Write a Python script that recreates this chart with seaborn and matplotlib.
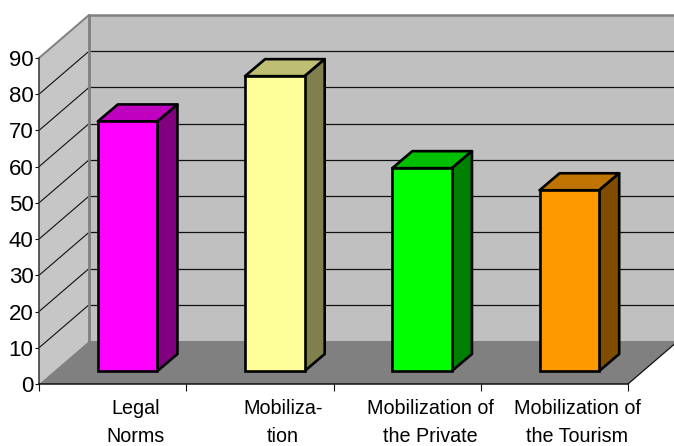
import matplotlib
matplotlib.use("Agg")
import matplotlib.pyplot as plt
from matplotlib.patches import Polygon
from matplotlib.lines import Line2D
from matplotlib.transforms import Affine2D, IdentityTransform
import pandas as pd
import seaborn as sns

categories = ["Legal\nNorms", "Mobiliza-\ntion", "Mobilization of\nthe Private", "Mobilization of\nthe Tourism"]
values = [68.9, 81.4, 56, 49.9]
front_colors = ["#FF00FF", "#FFFF99", "#00FF00", "#FF9900"]
top_colors = ["#C000C0", "#BFBF73", "#00BF00", "#BF7300"]
side_colors = ["#800080", "#80804D", "#008000", "#804D00"]
y_ticks = [0, 10, 20, 30, 40, 50, 60, 70, 80, 90]

W, H = 674, 446
WALL_DX, WALL_DY = 50, 43      # depth of the chart box, in pixels
BAR_DX, BAR_DY = 15, 13        # where a bar's front face sits within that depth
BAR_DEPTH_X, BAR_DEPTH_Y = 20, 17

sns.set_style("white")
plt.rcParams["font.family"] = ["Liberation Sans", "DejaVu Sans"]

fig = plt.figure(figsize=(W / 100, H / 100), dpi=100)
ax = fig.add_axes([39 / W, (H - 384) / H, (628 - 39) / W, (384 - 58) / H])
ax.patch.set_alpha(0)

df = pd.DataFrame({"category": categories, "value": values})
sns.barplot(data=df, x="category", y="value", hue="category", palette=front_colors,
            saturation=1, width=0.405, edgecolor="black", linewidth=1.9,
            legend=False, zorder=6, ax=ax)
ax.set_xlim(-0.5, len(categories) - 0.5)
ax.set_ylim(0, 90)
ax.set_xlabel("")
ax.set_ylabel("")
fig.canvas.draw()


def project(x, y, dx=0, dy=0):
    """Data position pushed back into the box by a pixel depth."""
    px, py = ax.transData.transform((x, y))
    return (px + dx, py + dy)


def face(points, color, zorder, edge="none", lw=0):
    ax.add_patch(Polygon(points, closed=True, facecolor=color, edgecolor=edge, linewidth=lw,
                         transform=IdentityTransform(), clip_on=False, zorder=zorder,
                         joinstyle="round"))


def seg(a, b, color, lw, zorder):
    ax.add_line(Line2D([a[0], b[0]], [a[1], b[1]], color=color, linewidth=lw,
                       transform=IdentityTransform(), clip_on=False, zorder=zorder))


x0, x1 = ax.get_xlim()
y0, y1 = ax.get_ylim()
WALL_GRAY = "#C0C0C0"
EDGE_GRAY = "#808080"

# back wall, side wall and floor
face([project(x0, y0, WALL_DX, WALL_DY), project(x1, y0, WALL_DX, WALL_DY),
      project(x1, y1, WALL_DX, WALL_DY), project(x0, y1, WALL_DX, WALL_DY)], WALL_GRAY, 1)
face([project(x0, y0), project(x0, y0, WALL_DX, WALL_DY),
      project(x0, y1, WALL_DX, WALL_DY), project(x0, y1)], "#C6C6C6", 1)
face([project(x0, y0), project(x1, y0),
      project(x1, y0, WALL_DX, WALL_DY), project(x0, y0, WALL_DX, WALL_DY)], "#808080", 2)

# gridlines run along the side wall and across the back wall
for v in y_ticks[1:-1]:
    seg(project(x0, v), project(x0, v, WALL_DX, WALL_DY), "#111111", 0.8, 3)
    seg(project(x0, v, WALL_DX, WALL_DY), project(x1, v, WALL_DX, WALL_DY), "#111111", 0.9, 3)

# box edges
seg(project(x0, y1, WALL_DX, WALL_DY), project(x1, y1, WALL_DX, WALL_DY), EDGE_GRAY, 1.8, 4)
seg(project(x0, y0, WALL_DX, WALL_DY), project(x0, y1, WALL_DX, WALL_DY), EDGE_GRAY, 2.0, 4)
seg(project(x0, y1), project(x0, y1, WALL_DX, WALL_DY), EDGE_GRAY, 1.4, 4)
seg(project(x1, y0), project(x1, y0, WALL_DX, WALL_DY), "#111111", 0.9, 4)

# bars: seaborn draws the front faces, the top and side follow from each bar's extent
shift = ax.transData + Affine2D().translate(BAR_DX, BAR_DY)
for i, bar in enumerate(ax.patches[:len(categories)]):
    bar.set_transform(shift)
    bar.set_clip_on(False)
    bar.set_joinstyle("miter")
    left, right = bar.get_x(), bar.get_x() + bar.get_width()
    top = bar.get_height()
    fx, fy = BAR_DX, BAR_DY
    bx, by = BAR_DX + BAR_DEPTH_X, BAR_DY + BAR_DEPTH_Y
    face([project(left, top, fx, fy), project(right, top, fx, fy),
          project(right, top, bx, by), project(left, top, bx, by)],
         top_colors[i], 5, "black", 1.9)
    face([project(right, 0, fx, fy), project(right, 0, bx, by),
          project(right, top, bx, by), project(right, top, fx, fy)],
         side_colors[i], 5, "black", 1.9)

# axes frame and ticks
sns.despine(ax=ax, top=True, right=True)
for name in ("left", "bottom"):
    ax.spines[name].set_zorder(7)
    ax.spines[name].set_linewidth(1.1)
ax.spines["left"].set_color("#333333")
ax.spines["bottom"].set_color("#111111")

ax.set_yticks(y_ticks)
ax.tick_params(axis="y", left=True, length=3, width=0.8, color="#111111", pad=1, labelsize=16,
               labelcolor="black")
ax.set_xticks([x0 + k for k in range(len(categories) + 1)])
ax.set_xticklabels([])
ax.tick_params(axis="x", bottom=True, length=5, width=0.8, color="#111111")

# category labels are centred on the bars' depth rather than the axis slots
for i, name in enumerate(categories):
    ax.annotate(name, xy=(i, 0), xycoords="data", xytext=(23 * 0.72, -15.5 * 0.72),
                textcoords="offset points", ha="center", va="top", fontsize=14.2,
                linespacing=1.55, color="black", annotation_clip=False)

fig.savefig("out.png", dpi=100, facecolor="white")
